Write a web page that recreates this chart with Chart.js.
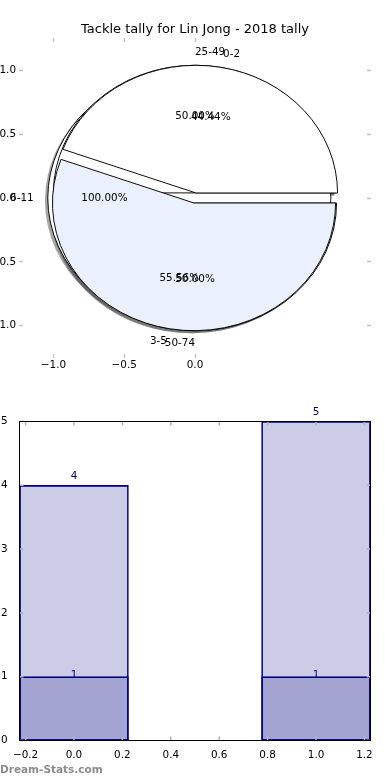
<!DOCTYPE html>
<html>
<head>
<meta charset="utf-8">
<script src="https://cdn.jsdelivr.net/npm/chart.js@4.4.1/dist/chart.umd.min.js"></script>
<style>
  html, body { margin: 0; padding: 0; background: #fff; }
  #wrap { position: relative; width: 390px; height: 780px; overflow: hidden; }
  #pieChart { position: absolute; left: 0; top: 0; }
  #barChart { position: absolute; left: 0; top: 385px; }
  #credit { position: absolute; left: 0; top: 763px; font: bold 10.5px "DejaVu Sans"; color: #8c8c8c; }
</style>
</head>
<body>
<div id="wrap">
  <canvas id="pieChart" width="390" height="385"></canvas>
  <canvas id="barChart" width="390" height="395"></canvas>
  <div id="credit">Dream-Stats.com</div>
</div>
<script>
// Pie data (three pies drawn on top of each other, bottom one first)
const pieLabels6 = ['6-11'];
const pieValues6 = [1];
const pieLabels25 = ['25-49', '50-74'];
const pieValues25 = [1, 1];
const pieLabels0 = ['0-2', '3-5'];
const pieValues0 = [4, 5];
const pieColors = ['#ffffff', '#eaf0fc'];
const pieXTicks = [-1.0, -0.5, 0.0];
const pieYTicks = [-1.0, -0.5, 0.0, 0.5, 1.0];

// Bar data
const barPositions = [0, 1];
const barTotals = [4, 5];
const barLower = [1, 1];
const barXTicks = [-0.2, 0.0, 0.2, 0.4, 0.6, 0.8, 1.0, 1.2];
const barYTicks = [0, 1, 2, 3, 4, 5];

const explode = 0.04;
const shadowShift = 0.02;
const tickFont = { family: 'DejaVu Sans', size: 10.4 };
const fmt = v => (v < 0 ? '\u2212' : '') + Math.abs(v).toFixed(1);
const setTicks = list => scale => { scale.ticks = list.map(value => ({ value })); };

// Draw the pies as ellipses (matplotlib style, counter-clockwise, exploded, with shadow)
const overlaidPies = {
    id: 'overlaidPies',
    beforeDatasetsDraw(chart) {
        const { ctx, scales: { x, y } } = chart;
        const cx = x.getPixelForValue(0), cy = y.getPixelForValue(0);
        const rx = x.getPixelForValue(1) - cx;
        const ry = cy - y.getPixelForValue(1);
        const paint = (arc, shadow) => {
            const mid = (arc.startAngle + arc.endAngle) / 2;
            const full = arc.circumference >= Math.PI * 2 - 1e-9;
            const saved = { x: arc.x, y: arc.y, innerRadius: arc.innerRadius, outerRadius: arc.outerRadius, options: arc.options };
            ctx.save();
            ctx.translate(cx, cy);
            ctx.scale(1, -ry / rx);
            ctx.translate(Math.cos(mid) * explode * rx, Math.sin(mid) * explode * rx);
            if (shadow) {
                ctx.translate(-shadowShift * rx, -shadowShift * rx);
                arc.options = { ...saved.options, backgroundColor: 'rgba(77,77,77,0.5)', borderWidth: 0 };
            } else if (full) {
                arc.options = { ...saved.options, borderWidth: 0 };
            }
            Object.assign(arc, { x: 0, y: 0, innerRadius: 0, outerRadius: rx });
            arc.draw(ctx);
            if (full && !shadow) {
                // a whole pie has no radial edge, only its rim
                ctx.beginPath();
                ctx.arc(0, 0, rx, 0, Math.PI * 2);
                ctx.strokeStyle = saved.options.borderColor;
                ctx.lineWidth = saved.options.borderWidth;
                ctx.stroke();
            }
            Object.assign(arc, saved);
            ctx.restore();
        };
        const metas = chart.data.datasets.map((d, i) => chart.getDatasetMeta(i));
        metas.forEach(m => m.data.forEach(arc => paint(arc, true)));
        metas.forEach(m => m.data.forEach(arc => paint(arc, false)));
        return false;
    },
    afterDraw(chart) {
        const { ctx, scales: { x, y } } = chart;
        ctx.save();
        ctx.font = '10.4px "DejaVu Sans"';
        ctx.fillStyle = '#000';
        ctx.textBaseline = 'middle';
        chart.data.datasets.forEach((ds, i) => {
            const total = ds.data.reduce((a, b) => a + b, 0);
            chart.getDatasetMeta(i).data.forEach((arc, j) => {
                const mid = (arc.startAngle + arc.endAngle) / 2;
                const c = Math.cos(mid), s = Math.sin(mid);
                const lx = (1.1 + explode) * c, ly = (1.1 + explode) * s;
                ctx.textAlign = lx > 0 ? 'left' : 'right';
                ctx.fillText(ds.sliceLabels[j], x.getPixelForValue(lx), y.getPixelForValue(ly));
                ctx.textAlign = 'center';
                const px = (0.6 + explode) * c, py = (0.6 + explode) * s;
                ctx.fillText((ds.data[j] / total * 100).toFixed(2) + '%', x.getPixelForValue(px), y.getPixelForValue(py));
            });
        });
        ctx.restore();
    }
};

const pieTickGrid = { drawOnChartArea: false, tickLength: 4, tickColor: '#c2c2c2', tickWidth: 1.5 };
const pieStyle = { backgroundColor: pieColors, borderColor: '#000', borderWidth: 1 };

new Chart(document.getElementById('pieChart'), {
    type: 'pie',
    data: {
        datasets: [
            { data: pieValues6, sliceLabels: pieLabels6, ...pieStyle },
            { data: pieValues25, sliceLabels: pieLabels25, ...pieStyle },
            { data: pieValues0, sliceLabels: pieLabels0, ...pieStyle }
        ]
    },
    options: {
        responsive: false,
        animation: false,
        rotation: 90,
        layout: { padding: 0 },
        scales: {
            x: {
                type: 'linear', position: 'bottom', min: -1.215, max: 1.215,
                afterBuildTicks: setTicks(pieXTicks),
                afterFit: s => { s.height = 31; },
                grid: pieTickGrid, border: { display: false },
                ticks: { font: tickFont, color: '#000', padding: 1, maxRotation: 0, autoSkip: false, callback: fmt }
            },
            x2: {
                axis: 'x', type: 'linear', position: 'top', min: -1.215, max: 1.215,
                afterBuildTicks: setTicks(pieXTicks),
                afterFit: s => { s.height = 4; },
                grid: pieTickGrid, border: { display: false },
                ticks: { display: false }
            },
            y: {
                type: 'linear', position: 'left', min: -1.222, max: 1.222,
                afterBuildTicks: setTicks(pieYTicks),
                afterFit: s => { s.width = 23; },
                grid: pieTickGrid, border: { display: false },
                ticks: { font: tickFont, color: '#000', padding: 3, autoSkip: false, callback: fmt }
            },
            y2: {
                axis: 'y', type: 'linear', position: 'right', min: -1.222, max: 1.222,
                afterBuildTicks: setTicks(pieYTicks),
                afterFit: s => { s.width = 23; },
                grid: pieTickGrid, border: { display: false },
                ticks: { display: false }
            }
        },
        plugins: {
            colors: { enabled: false },
            legend: { display: false },
            tooltip: { enabled: false },
            title: {
                display: true,
                text: 'Tackle tally for Lin Jong - 2018 tally',
                color: '#000',
                font: { family: 'DejaVu Sans', size: 13, weight: 'normal', lineHeight: 1.2 },
                padding: { top: 22.2, bottom: 0.2 }
            }
        }
    },
    plugins: [overlaidPies]
});

// Frame and inward tick marks for the bar chart
const frameTicks = {
    id: 'frameTicks',
    afterDatasetsDraw(chart) {
        const { ctx, chartArea: a, scales: { x, y } } = chart;
        ctx.save();
        ctx.strokeStyle = '#b5b5b5';
        ctx.lineWidth = 1.5;
        ctx.beginPath();
        x.ticks.forEach(t => {
            const px = x.getPixelForValue(t.value);
            ctx.moveTo(px, a.bottom); ctx.lineTo(px, a.bottom - 4);
            ctx.moveTo(px, a.top); ctx.lineTo(px, a.top + 4);
        });
        y.ticks.forEach(t => {
            const py = y.getPixelForValue(t.value);
            ctx.moveTo(a.left, py); ctx.lineTo(a.left + 4, py);
            ctx.moveTo(a.right, py); ctx.lineTo(a.right - 4, py);
        });
        ctx.stroke();
        ctx.strokeStyle = '#000';
        ctx.lineWidth = 1;
        ctx.strokeRect(a.left, a.top, a.right - a.left, a.bottom - a.top);
        ctx.restore();
    }
};

// Value labels on the bars
const barValues = {
    id: 'barValues',
    afterDraw(chart) {
        const { ctx } = chart;
        ctx.save();
        ctx.font = '10.4px "DejaVu Sans"';
        ctx.fillStyle = '#000080';
        ctx.textAlign = 'center';
        ctx.textBaseline = 'middle';
        chart.data.datasets.forEach((ds, i) => {
            chart.getDatasetMeta(i).data.forEach((bar, j) => {
                const dy = ds.labelAbove ? -9 : -1;
                ctx.fillText(String(ds.data[j].y), bar.x, bar.y + dy);
            });
        });
        ctx.restore();
    }
};

const barStyle = {
    grouped: false,
    backgroundColor: 'rgba(0,0,128,0.2)',
    borderColor: '#000080',
    borderWidth: 1,
    borderSkipped: false,
    barThickness: c => {
        const sx = c.chart.scales.x;
        return sx.getPixelForValue(0.45) - sx.getPixelForValue(0);
    }
};

new Chart(document.getElementById('barChart'), {
    type: 'bar',
    data: {
        datasets: [
            { label: 'total', data: barPositions.map((p, i) => ({ x: p, y: barTotals[i] })), labelAbove: true, ...barStyle },
            { label: 'lower', data: barPositions.map((p, i) => ({ x: p, y: barLower[i] })), ...barStyle }
        ]
    },
    options: {
        responsive: false,
        animation: false,
        layout: { padding: { top: 36.5, right: 19.5, left: 0, bottom: 0 } },
        scales: {
            x: {
                type: 'linear', min: -0.225, max: 1.225, offset: false,
                afterBuildTicks: setTicks(barXTicks),
                afterFit: s => { s.height = 39.5; },
                grid: { display: false, offset: false }, border: { display: false },
                ticks: { font: tickFont, color: '#000', padding: 1, maxRotation: 0, autoSkip: false, callback: fmt }
            },
            y: {
                type: 'linear', min: 0, max: 5,
                afterBuildTicks: setTicks(barYTicks),
                afterFit: s => { s.width = 19.5; },
                grid: { display: false }, border: { display: false },
                ticks: { font: tickFont, color: '#000', padding: 4, autoSkip: false, callback: v => String(v) }
            }
        },
        plugins: { colors: { enabled: false }, legend: { display: false }, tooltip: { enabled: false } }
    },
    plugins: [frameTicks, barValues]
});
</script>
</body>
</html>
